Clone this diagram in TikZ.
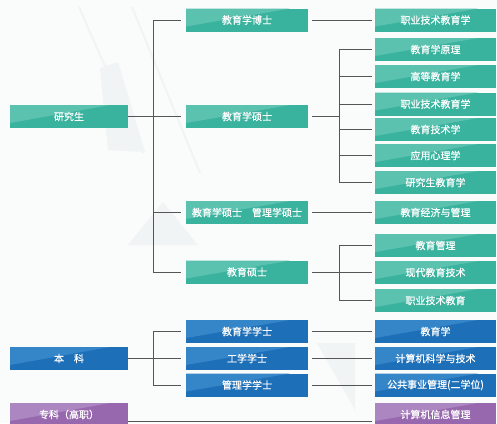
\documentclass[tikz,border=0pt]{standalone}
\usepackage{fontspec}
\newfontfamily\cjk{Noto Sans CJK SC}[FakeBold=0.6]
\definecolor{bgc}{HTML}{FAFBFB}
\definecolor{wm}{HTML}{F0F4F5}
\definecolor{tealB}{HTML}{3AB39E}
\definecolor{tealL}{HTML}{5CC2B0}
\definecolor{blueB}{HTML}{1D6FB8}
\definecolor{blueL}{HTML}{3585C9}
\definecolor{purB}{HTML}{9868AE}
\definecolor{purL}{HTML}{AC86C0}
\definecolor{linec}{HTML}{555555}
\tikzset{
  box/.style={minimum height=23pt, inner sep=0pt, text=white, font=\cjk\fontsize{10}{11}\selectfont},
  lw/.style={minimum width=118pt},
  mw/.style={minimum width=122pt},
  rw/.style={minimum width=121pt},
  twotone/.style 2 args={fill=#1, path picture={\fill[#2] (path picture bounding box.north west) -- ([xshift=-18pt]path picture bounding box.north east) -- ([yshift=5pt]path picture bounding box.south west) -- cycle;}},
  tbox/.style={twotone={tealB}{tealL}},
  bbox/.style={twotone={blueB}{blueL}},
  pbox/.style={twotone={purB}{purL}},
  conn/.style={draw=linec, line width=0.9pt},
}
\begin{document}
\begin{tikzpicture}[x=1pt,y=-1pt]
\useasboundingbox (0,0) rectangle (497,423);
\fill[bgc] (0,0) rectangle (497,423);
% faint watermark shapes
\draw[wm, line width=2pt] (79,7) -- (143,153);
\draw[wm, line width=2pt] (132,7) -- (200,173);
\fill[wm] (100,68) -- (118,62) -- (145,152) -- (108,150) -- cycle;
\fill[wm] (128,245) -- (198,245) -- (163,202) -- cycle;
\fill[wm] (317,343) -- (355,343) -- (355,410) -- cycle;

% left column
\node[box,lw,tbox] (yjs) at (69,116.5) {研究生};
\node[box,lw,bbox] (bk) at (69,358.5) {本\hspace{1em}科};
\node[box,lw,pbox] (zk) at (69,414.5) {专科（高职）};

% middle column
\node[box,mw,tbox] (bs) at (247,20) {教育学博士};
\node[box,mw,tbox] (ss) at (247,116.5) {教育学硕士};
\node[box,mw,tbox] (gl) at (247,212.5) {教育学硕士\hspace{1em}管理学硕士};
\node[box,mw,tbox] (jy) at (247,272) {教育硕士};
\node[box,mw,bbox] (m1) at (247,331.5) {教育学学士};
\node[box,mw,bbox] (m2) at (247,358.5) {工学学士};
\node[box,mw,bbox] (m3) at (247,385) {管理学学士};

% right column
\node[box,rw,tbox] (r1) at (435.5,20) {职业技术教育学};
\node[box,rw,tbox] (r2) at (435.5,49.5) {教育学原理};
\node[box,rw,tbox] (r3) at (435.5,76.5) {高等教育学};
\node[box,rw,tbox] (r4) at (435.5,104) {职业技术教育学};
\node[box,rw,tbox] (r5) at (435.5,129.5) {教育技术学};
\node[box,rw,tbox] (r6) at (435.5,155.5) {应用心理学};
\node[box,rw,tbox] (r7) at (435.5,182.5) {研究生教育学};
\node[box,rw,tbox] (r8) at (435.5,212.5) {教育经济与管理};
\node[box,rw,tbox] (r9) at (435.5,245.5) {教育管理};
\node[box,rw,tbox] (r10) at (435.5,272.5) {现代教育技术};
\node[box,rw,tbox] (r11) at (435.5,300.5) {职业技术教育};
\node[box,rw,bbox] (b1) at (435.5,331.5) {教育学};
\node[box,rw,bbox] (b2) at (435.5,358.5) {计算机科学与技术};
\node[box,rw,bbox] (b3) at (435.5,385) {公共事业管理(二学位)};
\node[box,rw,pbox] (p1) at (435.5,414.5) {计算机信息管理};

% branch x positions
\coordinate (tk) at (153,0);
\coordinate (br) at (339,0);

% 研究生 tree
\draw[conn] (yjs.east) -- (yjs.east -| tk);
\draw[conn] (bs.west -| tk) -- (jy.west -| tk);
\foreach \n in {bs,ss,gl,jy} \draw[conn] (\n.west -| tk) -- ([xshift=-5pt]\n.west);

\draw[conn] ([xshift=4pt]bs.east) -- ([xshift=-3pt]r1.west);
\draw[conn] ([xshift=4pt]ss.east) -- (ss.east -| br);
\draw[conn] (r2.west -| br) -- (r7.west -| br);
\foreach \n in {r2,r3,r4,r5,r6,r7} \draw[conn] (\n.west -| br) -- ([xshift=-3pt]\n.west);
\draw[conn] ([xshift=4pt]gl.east) -- ([xshift=-3pt]r8.west);
\draw[conn] ([xshift=4pt]jy.east) -- (jy.east -| br);
\draw[conn] (r9.west -| br) -- (r11.west -| br);
\foreach \n in {r9,r10,r11} \draw[conn] (\n.west -| br) -- ([xshift=-3pt]\n.west);

% 本科 tree
\draw[conn] (bk.east) -- (bk.east -| tk);
\draw[conn] (m1.west -| tk) -- (m3.west -| tk);
\foreach \n in {m1,m2,m3} \draw[conn] (\n.west -| tk) -- ([xshift=-5pt]\n.west);
\draw[conn] ([xshift=4pt]m1.east) -- ([xshift=-3pt]b1.west);
\draw[conn] ([xshift=4pt]m2.east) -- ([xshift=-3pt]b2.west);
\draw[conn] ([xshift=4pt]m3.east) -- ([xshift=-3pt]b3.west);

% 专科
\draw[conn] ([yshift=-6.5pt]zk.east) -- ([yshift=-6.5pt,xshift=-3pt]p1.west);
\end{tikzpicture}
\end{document}
